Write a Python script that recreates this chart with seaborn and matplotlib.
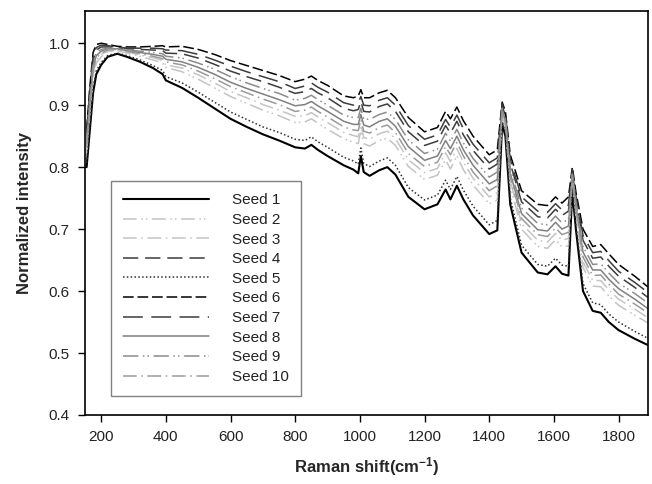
import matplotlib
matplotlib.use("Agg")
import matplotlib.pyplot as plt
import seaborn as sns
import pandas as pd

# Raman shift grid (cm-1)
raman_shift = [155, 165, 175, 185, 200, 220, 250, 280, 320, 360, 390, 400, 450, 500, 550,
               600, 650, 700, 750, 800, 830, 850, 870, 900, 950, 980, 995, 1003, 1012, 1030,
               1060, 1085, 1110, 1150, 1200, 1240, 1265, 1280, 1300, 1320, 1350, 1400, 1425, 1440, 1450,
               1465, 1500, 1550, 1580, 1605, 1625, 1645, 1657, 1668, 1690, 1720, 1745, 1770, 1800, 1850, 1890]

seed_1 = [0.800, 0.860, 0.920, 0.950, 0.965, 0.978, 0.983, 0.978, 0.970, 0.960, 0.950, 0.940, 0.928, 0.912, 0.895,
          0.878, 0.865, 0.853, 0.843, 0.832, 0.830, 0.836, 0.828, 0.818, 0.803, 0.796, 0.790, 0.818, 0.792, 0.786,
          0.795, 0.800, 0.788, 0.752, 0.732, 0.740, 0.764, 0.748, 0.770, 0.748, 0.722, 0.692, 0.698, 0.870, 0.850,
          0.740, 0.662, 0.630, 0.627, 0.640, 0.628, 0.625, 0.762, 0.700, 0.600, 0.568, 0.565, 0.550, 0.537, 0.523, 0.513]
seed_2 = [0.823, 0.887, 0.945, 0.968, 0.978, 0.986, 0.988, 0.984, 0.979, 0.973, 0.968, 0.961, 0.954, 0.942, 0.928,
          0.914, 0.903, 0.892, 0.883, 0.872, 0.873, 0.878, 0.871, 0.861, 0.846, 0.840, 0.838, 0.859, 0.838, 0.834,
          0.843, 0.847, 0.835, 0.801, 0.780, 0.787, 0.812, 0.797, 0.818, 0.796, 0.771, 0.741, 0.747, 0.883, 0.865,
          0.770, 0.700, 0.672, 0.669, 0.683, 0.671, 0.673, 0.776, 0.723, 0.638, 0.608, 0.607, 0.592, 0.577, 0.561, 0.549]
seed_3 = [0.828, 0.893, 0.951, 0.973, 0.982, 0.987, 0.989, 0.986, 0.981, 0.977, 0.972, 0.965, 0.960, 0.949, 0.936,
          0.922, 0.912, 0.901, 0.892, 0.882, 0.883, 0.888, 0.881, 0.872, 0.856, 0.851, 0.849, 0.868, 0.848, 0.845,
          0.854, 0.858, 0.846, 0.812, 0.791, 0.798, 0.823, 0.809, 0.830, 0.808, 0.782, 0.752, 0.759, 0.887, 0.869,
          0.778, 0.709, 0.682, 0.679, 0.693, 0.682, 0.685, 0.780, 0.728, 0.647, 0.617, 0.617, 0.602, 0.587, 0.571, 0.557]
seed_4 = [0.849, 0.917, 0.973, 0.989, 0.994, 0.994, 0.993, 0.991, 0.990, 0.989, 0.988, 0.984, 0.983, 0.976, 0.966,
          0.955, 0.946, 0.938, 0.929, 0.919, 0.922, 0.927, 0.920, 0.912, 0.895, 0.891, 0.893, 0.906, 0.890, 0.889,
          0.898, 0.902, 0.890, 0.857, 0.835, 0.842, 0.867, 0.855, 0.874, 0.852, 0.827, 0.797, 0.805, 0.899, 0.883,
          0.806, 0.744, 0.720, 0.718, 0.732, 0.722, 0.729, 0.793, 0.749, 0.682, 0.653, 0.655, 0.640, 0.624, 0.606, 0.590]
seed_5 = [0.807, 0.868, 0.928, 0.956, 0.969, 0.980, 0.984, 0.980, 0.973, 0.964, 0.956, 0.946, 0.936, 0.921, 0.905,
          0.889, 0.877, 0.865, 0.856, 0.845, 0.843, 0.849, 0.841, 0.832, 0.816, 0.810, 0.805, 0.831, 0.806, 0.801,
          0.810, 0.815, 0.803, 0.767, 0.747, 0.755, 0.779, 0.764, 0.785, 0.763, 0.737, 0.707, 0.714, 0.874, 0.855,
          0.750, 0.674, 0.643, 0.640, 0.653, 0.642, 0.640, 0.767, 0.707, 0.612, 0.581, 0.578, 0.563, 0.550, 0.535, 0.524]
seed_6 = [0.860, 0.930, 0.985, 0.998, 1.000, 0.998, 0.995, 0.994, 0.994, 0.995, 0.996, 0.994, 0.995, 0.990, 0.982,
          0.972, 0.964, 0.956, 0.948, 0.938, 0.942, 0.947, 0.940, 0.932, 0.915, 0.912, 0.915, 0.925, 0.912, 0.912,
          0.920, 0.924, 0.912, 0.880, 0.857, 0.864, 0.890, 0.878, 0.897, 0.875, 0.850, 0.820, 0.828, 0.905, 0.890,
          0.820, 0.762, 0.740, 0.738, 0.752, 0.742, 0.752, 0.800, 0.760, 0.700, 0.672, 0.675, 0.660, 0.643, 0.624, 0.607]
seed_7 = [0.854, 0.923, 0.979, 0.993, 0.997, 0.996, 0.994, 0.992, 0.992, 0.992, 0.991, 0.989, 0.988, 0.982, 0.973,
          0.963, 0.954, 0.946, 0.938, 0.927, 0.931, 0.936, 0.929, 0.921, 0.904, 0.900, 0.903, 0.914, 0.900, 0.899,
          0.908, 0.912, 0.900, 0.867, 0.845, 0.852, 0.877, 0.865, 0.884, 0.862, 0.837, 0.807, 0.815, 0.902, 0.886,
          0.812, 0.752, 0.729, 0.727, 0.741, 0.731, 0.739, 0.796, 0.754, 0.690, 0.662, 0.664, 0.649, 0.632, 0.614, 0.598]
seed_8 = [0.838, 0.904, 0.961, 0.980, 0.987, 0.991, 0.991, 0.988, 0.985, 0.982, 0.979, 0.974, 0.970, 0.961, 0.950,
          0.937, 0.927, 0.918, 0.909, 0.899, 0.901, 0.906, 0.899, 0.890, 0.874, 0.869, 0.869, 0.885, 0.868, 0.865,
          0.874, 0.878, 0.866, 0.833, 0.811, 0.818, 0.843, 0.830, 0.850, 0.828, 0.803, 0.773, 0.780, 0.892, 0.875,
          0.790, 0.725, 0.699, 0.697, 0.711, 0.700, 0.705, 0.786, 0.738, 0.663, 0.634, 0.634, 0.619, 0.604, 0.587, 0.572]
seed_9 = [0.843, 0.910, 0.967, 0.985, 0.990, 0.992, 0.992, 0.990, 0.987, 0.985, 0.983, 0.979, 0.976, 0.968, 0.958,
          0.946, 0.936, 0.927, 0.919, 0.908, 0.911, 0.916, 0.909, 0.900, 0.884, 0.880, 0.880, 0.895, 0.878, 0.877,
          0.885, 0.889, 0.877, 0.844, 0.822, 0.829, 0.855, 0.842, 0.861, 0.839, 0.814, 0.784, 0.792, 0.895, 0.879,
          0.798, 0.734, 0.709, 0.707, 0.721, 0.710, 0.716, 0.789, 0.743, 0.672, 0.643, 0.644, 0.629, 0.613, 0.596, 0.581]
seed_10 = [0.833, 0.899, 0.956, 0.976, 0.984, 0.989, 0.990, 0.987, 0.983, 0.979, 0.975, 0.970, 0.965, 0.955, 0.943,
           0.930, 0.920, 0.910, 0.901, 0.890, 0.892, 0.897, 0.890, 0.881, 0.865, 0.860, 0.859, 0.877, 0.858, 0.855,
           0.864, 0.868, 0.856, 0.822, 0.801, 0.808, 0.833, 0.820, 0.840, 0.818, 0.792, 0.762, 0.770, 0.889, 0.872,
           0.784, 0.717, 0.691, 0.688, 0.702, 0.691, 0.695, 0.783, 0.733, 0.655, 0.625, 0.626, 0.611, 0.595, 0.579, 0.565]

seed_names = ["Seed 1", "Seed 2", "Seed 3", "Seed 4", "Seed 5",
              "Seed 6", "Seed 7", "Seed 8", "Seed 9", "Seed 10"]
seed_values = [seed_1, seed_2, seed_3, seed_4, seed_5, seed_6, seed_7, seed_8, seed_9, seed_10]

x_ticks = [200, 400, 600, 800, 1000, 1200, 1400, 1600, 1800]
y_ticks = [0.4, 0.5, 0.6, 0.7, 0.8, 0.9, 1.0]

rows = []
for name, vals in zip(seed_names, seed_values):
    for xv, yv in zip(raman_shift, vals):
        rows.append({"shift": xv, "intensity": yv, "seed": name})
df = pd.DataFrame(rows)

palette = {
    "Seed 1": "#000000", "Seed 2": "#c4c4c4", "Seed 3": "#c4c4c4", "Seed 4": "#3c3c3c",
    "Seed 5": "#303030", "Seed 6": "#000000", "Seed 7": "#3c3c3c", "Seed 8": "#808080",
    "Seed 9": "#8c8c8c", "Seed 10": "#9a9a9a",
}
dashes = {
    "Seed 1": "", "Seed 2": (9, 3, 1, 2, 1, 3), "Seed 3": (9, 3, 1, 3), "Seed 4": (10, 4.5),
    "Seed 5": (1, 1.5), "Seed 6": (7, 2.5), "Seed 7": (13, 5.5), "Seed 8": "",
    "Seed 9": (10, 3, 1, 2, 1, 3), "Seed 10": (9, 3, 1, 3),
}

sns.set_style("white")
plt.rcParams["font.family"] = ["Liberation Sans", "DejaVu Sans"]
plt.rcParams["mathtext.fontset"] = "custom"
plt.rcParams["mathtext.rm"] = "Liberation Sans:bold"
plt.rcParams["mathtext.default"] = "rm"

fig = plt.figure(figsize=(6.52, 4.84), dpi=100)
ax = fig.add_axes([85 / 652, 1 - 415 / 484, 563 / 652, 404 / 484])

sns.lineplot(data=df, x="shift", y="intensity", hue="seed", style="seed",
             hue_order=seed_names, style_order=seed_names,
             palette=palette, dashes=dashes, linewidth=1.1, legend=False, ax=ax)

for line, name in zip(ax.lines, seed_names):
    if name == "Seed 1":
        line.set_linewidth(1.5)

ax.set_xlim(150, 1891)
ax.set_ylim(0.4, 1.052)
ax.set_xticks(x_ticks)
ax.set_yticks(y_ticks)
ax.set_yticklabels([f"{v:.1f}" for v in y_ticks])
ax.tick_params(axis="both", which="both", direction="out", length=5, width=1,
               labelsize=11, labelcolor="#222222", color="black",
               bottom=True, left=True, top=False, right=False, pad=6)
for sp in ax.spines.values():
    sp.set_color("black")
    sp.set_linewidth(1.2)

ax.set_xlabel("Raman shift(cm$^{-1}$)", fontsize=12, fontweight="bold", labelpad=8)
ax.set_ylabel("Normalized intensity", fontsize=12, fontweight="bold", labelpad=12)

leg = ax.legend(handles=ax.lines[:10], labels=seed_names, loc="upper left",
                bbox_to_anchor=(26 / 563, (415 - 181) / 404), borderaxespad=0,
                fontsize=11, handlelength=5.6, handletextpad=1.5, labelspacing=0.37,
                borderpad=0.8, fancybox=False, framealpha=1, edgecolor="#808080")
leg.get_frame().set_linewidth(1.0)
for t in leg.get_texts():
    t.set_color("#222222")

fig.savefig("out.png", dpi=100)
